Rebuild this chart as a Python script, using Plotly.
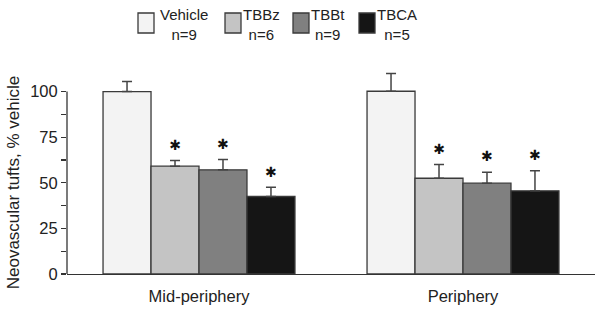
import plotly.graph_objects as go

regions = ["Mid-periphery", "Periphery"]
series = ["Vehicle", "TBBz", "TBBt", "TBCA"]
n_labels = ["n=9", "n=6", "n=9", "n=5"]
means = {
    "Vehicle": [100.0, 100.2],
    "TBBz": [59.1, 52.5],
    "TBBt": [57.1, 49.8],
    "TBCA": [42.5, 45.6],
}
sems = {
    "Vehicle": [5.6, 9.7],
    "TBBz": [3.1, 7.5],
    "TBBt": [5.7, 6.0],
    "TBCA": [5.0, 11.0],
}
significant = {
    "Vehicle": [False, False],
    "TBBz": [True, True],
    "TBBt": [True, True],
    "TBCA": [True, True],
}
y_ticks = [0, 25, 50, 75, 100]
y_minor = [12.5, 37.5, 62.5, 87.5]

colors = {"Vehicle": "#f3f3f3", "TBBz": "#c4c4c4", "TBBt": "#808080", "TBCA": "#151515"}
edge = "#3a3a3a"
FONT = "Liberation Sans, Arial, sans-serif"

fig = go.Figure()
for s in series:
    fig.add_trace(go.Bar(
        x=regions, y=means[s], name=s, offsetgroup=s,
        marker=dict(color=colors[s], line=dict(color=edge, width=1.3)),
        error_y=dict(type="data", array=sems[s], arrayminus=[0] * len(regions),
                     symmetric=False, color="#444444", thickness=1.5, width=5),
        showlegend=False,
    ))
for s in series:
    tops = [m + e for m, e in zip(means[s], sems[s])]
    fig.add_trace(go.Scatter(
        x=regions, y=tops, offsetgroup=s, mode="markers+text",
        marker=dict(size=10, opacity=0),
        text=["\u2731" if f else "" for f in significant[s]],
        textposition="top center",
        textfont=dict(family="DejaVu Sans", size=14, color="#111111"),
        showlegend=False, hoverinfo="skip", cliponaxis=False,
    ))

W, H = 602, 314
ml, mr, mt, mb = 67, 7, 46, 40
pw, ph = W - ml - mr, H - mt - mb

def px(x):
    return (x - ml) / pw

def py(y):
    return (H - mb - y) / ph

# custom legend
box_left = [138, 225, 293, 359]
text_center = [183.5, 261.5, 328, 396.5]
for i, s in enumerate(series):
    fig.add_shape(type="rect", xref="paper", yref="paper",
                  x0=px(box_left[i]), x1=px(box_left[i] + 16),
                  y0=py(33), y1=py(13),
                  fillcolor=colors[s], line=dict(color=edge, width=1.3))
    fig.add_annotation(xref="paper", yref="paper", x=px(text_center[i]), y=py(24.5),
                       text=f"{s}<br>{n_labels[i]}", showarrow=False, align="center",
                       xanchor="center", yanchor="middle",
                       font=dict(family=FONT, size=15, color="#222222"))

# y axis line (0..100) and title
fig.add_shape(type="line", xref="paper", yref="y", x0=0, x1=0, y0=0, y1=100,
              line=dict(color="#333333", width=1.3))
fig.add_annotation(xref="paper", yref="y", x=px(13.5), y=50, text="Neovascular tufts, % vehicle",
                   textangle=-90, showarrow=False, xanchor="center", yanchor="middle",
                   font=dict(family=FONT, size=17, color="#222222"))

fig.update_layout(
    width=W, height=H, margin=dict(l=ml, r=mr, t=mt, b=mb),
    paper_bgcolor="white", plot_bgcolor="white",
    barmode="group", bargap=0.273, bargroupgap=0, scattermode="group", scattergap=0.273,
    showlegend=False, hovermode=False,
    font=dict(family=FONT, color="#222222"),
)
fig.update_xaxes(showline=True, linecolor="#333333", linewidth=1.3, ticks="",
                 tickfont=dict(size=16.5), ticklabelstandoff=7,
                 showgrid=False, zeroline=False, automargin=False)
fig.update_yaxes(range=[0, 125], showline=False, showgrid=False, zeroline=False, automargin=False,
                 tickmode="array", tickvals=y_ticks, ticks="outside", ticklen=5,
                 tickcolor="#333333", tickwidth=1.3, tickfont=dict(size=16.5),
                 minor=dict(tickmode="array", tickvals=y_minor, ticks="outside",
                            ticklen=5, tickcolor="#333333", tickwidth=1.3))

fig.write_html("out.html", config={"displayModeBar": False, "staticPlot": True},
               post_script="document.body.style.margin='0px';")
